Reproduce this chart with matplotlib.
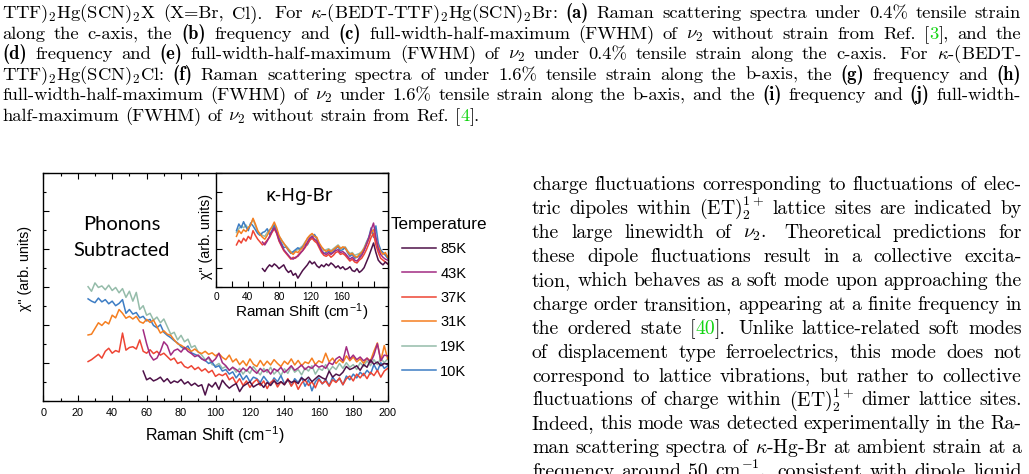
import re
import numpy as np
import matplotlib
matplotlib.use("Agg")
import matplotlib.pyplot as plt

plt.rcParams['mathtext.fontset'] = 'cm'
plt.rcParams['font.family'] = ['Liberation Sans', 'DejaVu Sans']

W, H = 1029, 474

# ---------------- data: main panel (phonons subtracted) ----------------
shift_main = list(range(26, 201, 2))
shift_main_hot = list(range(58, 201, 2))

chi_19K = [3.00, 2.88, 3.10, 2.98, 3.02, 2.92, 3.04, 2.90, 2.98, 2.84,
           2.95, 2.72, 2.88, 2.62, 2.85, 2.40, 2.50, 2.25, 2.30, 2.12,
           2.20, 2.05, 2.15, 1.95, 1.75, 1.80, 1.60, 1.72, 1.55, 1.62,
           1.40, 1.45, 1.28, 1.20, 1.08, 1.12, 0.95, 0.92, 0.98, 0.85,
           0.90, 0.80, 0.88, 0.75, 0.85, 0.70, 0.82, 0.72, 0.90, 0.78,
           0.68, 0.85, 0.74, 0.88, 0.70, 0.80, 0.66, 0.84, 0.72, 0.90,
           0.75, 0.82, 0.68, 0.86, 0.78, 0.92, 0.70, 0.85, 0.80, 0.95,
           0.78, 0.90, 0.82, 0.98, 0.85, 1.00, 0.88, 0.95, 0.82, 1.00,
           0.90, 1.05, 0.92, 1.08, 0.95, 1.12, 1.00, 1.10]
chi_10K = [2.68, 2.62, 2.58, 2.70, 2.60, 2.66, 2.55, 2.62, 2.50, 2.56,
           2.66, 2.30, 2.40, 2.28, 2.32, 2.18, 2.22, 2.10, 2.14, 1.98,
           1.92, 2.00, 1.80, 1.72, 1.66, 1.58, 1.52, 1.42, 1.36, 1.44,
           1.26, 1.22, 1.18, 1.10, 1.06, 0.98, 1.02, 0.88, 0.92, 0.78,
           0.82, 0.70, 0.76, 0.60, 0.72, 0.55, 0.66, 0.50, 0.62, 0.58,
           0.48, 0.64, 0.52, 0.42, 0.60, 0.50, 0.66, 0.45, 0.55, 0.40,
           0.58, 0.48, 0.62, 0.38, 0.55, 0.26, 0.50, 0.60, 0.44, 0.56,
           0.40, 0.62, 0.50, 0.58, 0.42, 0.65, 0.55, 0.70, 0.60, 0.75,
           0.66, 0.80, 0.70, 0.95, 0.78, 1.00, 0.85, 0.92]
chi_31K = [1.73, 1.75, 1.90, 2.05, 1.98, 2.08, 2.02, 2.25, 2.18, 2.40,
           2.30, 2.17, 2.22, 2.15, 2.22, 2.08, 2.04, 2.14, 2.06, 2.12,
           1.95, 1.78, 1.84, 1.75, 1.72, 1.60, 1.50, 1.46, 1.40, 1.36,
           1.30, 1.36, 1.28, 1.24, 1.30, 1.22, 1.26, 1.18, 1.24, 1.14,
           1.08, 1.20, 1.02, 1.10, 0.95, 1.05, 0.92, 1.10, 0.96, 0.90,
           1.06, 0.92, 1.04, 0.94, 1.08, 0.98, 0.90, 1.04, 0.96, 1.10,
           0.94, 1.06, 0.92, 1.02, 0.98, 1.12, 0.95, 1.05, 1.00, 1.25,
           1.02, 1.12, 0.98, 1.08, 1.00, 1.18, 1.05, 1.15, 1.02, 1.10,
           0.98, 1.12, 1.05, 1.30, 1.52, 1.05, 1.45, 1.10]
chi_37K = [1.03, 1.08, 1.15, 1.22, 1.12, 1.30, 1.38, 1.25, 1.32, 1.28,
           1.78, 1.33, 1.40, 1.42, 1.36, 1.60, 1.30, 1.25, 1.34, 1.24,
           1.30, 1.20, 1.25, 1.16, 1.07, 1.12, 0.98, 1.02, 0.90, 0.86,
           0.92, 0.82, 0.88, 0.78, 0.84, 0.74, 0.80, 0.64, 0.70, 0.66,
           0.72, 0.55, 0.62, 0.45, 0.58, 0.40, 0.52, 0.35, 0.48, 0.56,
           0.40, 0.52, 0.32, 0.48, 0.55, 0.36, 0.50, 0.42, 0.58, 0.38,
           0.52, 0.30, 0.46, 0.55, 0.40, 0.50, 0.34, 0.56, 0.45, 0.52,
           0.38, 0.55, 0.48, 0.60, 0.42, 0.58, 0.65, 0.52, 0.70, 0.60,
           0.72, 0.58, 0.75, 0.66, 0.80, 0.62, 0.78, 0.85]
chi_43K = [1.86, 1.50, 1.20, 1.07, 1.12, 1.30, 1.55, 1.45, 1.20, 1.32,
           1.36, 1.28, 1.40, 1.30, 1.24, 1.16, 1.20, 1.10, 1.05, 1.15,
           1.02, 1.10, 1.25, 1.00, 0.92, 0.80, 0.88, 0.82, 0.75, 0.86,
           0.78, 0.90, 0.80, 0.72, 0.85, 0.76, 0.82, 0.70, 0.84, 0.78,
           0.88, 0.74, 0.82, 0.92, 0.80, 0.86, 0.94, 0.82, 0.90, 0.85,
           0.95, 0.88, 0.92, 0.85, 1.00, 0.95, 1.10, 1.16, 1.05, 1.42,
           1.10, 1.20, 1.08, 1.15, 1.05, 1.12, 1.00, 1.20, 1.50, 1.05,
           1.20, 1.18]
chi_85K = [0.78, 0.55, 0.60, 0.52, 0.56, 0.62, 0.50, 0.58, 0.46, 0.52,
           0.48, 0.56, 0.44, 0.50, 0.40, 0.46, 0.38, 0.42, 0.15, 0.44,
           0.36, 0.48, 0.30, 0.54, 0.42, 0.33, 0.40, 0.45, 0.24, 0.38,
           0.44, 0.50, 0.36, 0.42, 0.46, 0.35, 0.48, 0.40, 0.52, 0.44,
           0.50, 0.42, 0.55, 0.48, 0.52, 0.45, 0.60, 0.54, 0.62, 0.50,
           0.58, 0.66, 0.60, 0.56, 0.78, 0.62, 0.70, 0.66, 0.75, 0.90,
           0.82, 0.86, 0.92, 0.80, 0.95, 0.88, 1.07, 0.96, 1.02, 0.92,
           0.98, 0.95]

# ---------------- data: inset (raw spectra) ----------------
shift_ins = list(range(26, 219, 3))
shift_ins_hot = list(range(59, 219, 3))

ins_10K = [2.95, 3.30, 3.10, 3.42, 3.15, 2.95, 3.35, 3.20, 3.00, 2.80,
           2.70, 2.85, 2.90, 3.05, 2.75, 2.95, 3.25, 2.90, 2.55, 2.30,
           2.05, 2.10, 1.90, 1.75, 1.85, 1.95, 2.05, 1.95, 2.10, 2.25,
           2.20, 2.45, 2.60, 2.75, 2.55, 2.15, 1.90, 1.75, 1.80, 1.90,
           1.75, 1.85, 2.00, 2.10, 1.90, 1.95, 2.05, 1.80, 1.60, 1.70,
           1.50, 1.55, 1.60, 1.75, 1.95, 2.30, 2.60, 3.10, 2.60, 3.20,
           2.30, 1.95, 1.80, 1.65, 1.50]
ins_31K = [2.65, 2.95, 2.80, 3.00, 2.90, 3.10, 3.25, 3.60, 3.30, 2.95,
           2.75, 2.60, 2.50, 2.70, 2.95, 3.15, 3.40, 3.10, 2.70, 2.45,
           2.30, 2.10, 1.95, 1.80, 1.70, 1.85, 1.80, 1.95, 2.05, 2.30,
           2.55, 2.70, 2.80, 2.65, 2.60, 2.30, 2.10, 1.95, 1.85, 1.95,
           1.85, 1.95, 2.05, 2.15, 2.00, 2.10, 2.05, 1.85, 1.70, 1.75,
           1.60, 1.55, 1.70, 1.80, 2.00, 2.25, 2.50, 2.85, 3.00, 2.50,
           2.10, 1.85, 1.70, 1.80, 1.55]
ins_19K = [2.85, 3.05, 3.20, 3.10, 3.25, 3.05, 3.30, 3.55, 3.20, 2.90,
           2.80, 2.70, 2.65, 2.85, 3.00, 3.10, 3.25, 3.00, 2.65, 2.50,
           2.25, 2.15, 2.00, 1.85, 1.80, 1.90, 1.95, 2.05, 2.15, 2.35,
           2.50, 2.65, 2.75, 2.70, 2.50, 2.25, 2.05, 1.90, 1.95, 2.00,
           1.90, 2.00, 2.10, 2.20, 2.05, 2.00, 2.10, 1.90, 1.75, 1.80,
           1.65, 1.70, 1.75, 1.85, 2.05, 2.35, 2.60, 2.90, 2.70, 2.40,
           2.05, 1.90, 1.75, 1.70, 1.60]
ins_37K = [2.20, 2.45, 2.30, 2.55, 2.40, 2.65, 2.50, 2.95, 2.70, 2.50,
           2.35, 2.20, 2.30, 2.45, 2.60, 2.85, 3.05, 2.80, 2.40, 2.15,
           1.90, 1.75, 1.60, 1.45, 1.55, 1.50, 1.65, 1.80, 1.90, 2.05,
           2.25, 2.45, 2.55, 2.40, 2.30, 2.05, 1.80, 1.65, 1.60, 1.70,
           1.55, 1.65, 1.80, 1.85, 1.70, 1.75, 1.65, 1.50, 1.35, 1.45,
           1.30, 1.25, 1.40, 1.50, 1.70, 1.95, 2.25, 2.60, 2.80, 2.20,
           1.80, 1.50, 1.40, 1.30, 1.20]
ins_43K = [2.35, 2.20, 2.40, 2.65, 2.90, 3.10, 2.85, 2.45, 2.20, 1.95,
           1.80, 1.65, 1.50, 1.45, 1.55, 1.60, 1.75, 1.90, 2.10, 2.35,
           2.55, 2.65, 2.50, 2.40, 2.15, 1.90, 1.75, 1.70, 1.80, 1.70,
           1.80, 1.90, 1.95, 1.80, 1.85, 1.75, 1.60, 1.45, 1.55, 1.40,
           1.35, 1.50, 1.65, 1.90, 2.20, 2.55, 3.00, 3.35, 2.60, 2.00,
           1.70, 1.55, 1.45, 1.40]
ins_85K = [0.95, 0.80, 1.00, 1.15, 1.05, 1.20, 1.10, 0.95, 1.05, 1.15,
           0.90, 0.75, 0.85, 0.60, 0.70, 0.45, 0.65, 0.85, 1.00, 1.15,
           1.35, 1.20, 1.30, 1.10, 1.00, 1.15, 1.05, 1.20, 1.10, 1.25,
           1.15, 1.00, 1.10, 0.95, 1.05, 0.90, 0.95, 1.05, 0.85, 0.80,
           0.95, 0.75, 0.85, 1.00, 1.30, 1.60, 1.95, 2.30, 1.80, 1.40,
           1.25, 1.15, 1.30, 1.20]

temps = ['85K', '43K', '37K', '31K', '19K', '10K']
colors = {'85K': '#4e1249', '43K': '#a22b82', '37K': '#ee4534',
          '31K': '#f57e20', '19K': '#95bcaa', '10K': '#3d7dc4'}

main_series = {'19K': (shift_main, chi_19K), '10K': (shift_main, chi_10K),
               '31K': (shift_main, chi_31K), '37K': (shift_main, chi_37K),
               '43K': (shift_main_hot, chi_43K), '85K': (shift_main_hot, chi_85K)}
inset_series = {'19K': (shift_ins, ins_19K), '10K': (shift_ins, ins_10K),
                '31K': (shift_ins, ins_31K), '37K': (shift_ins, ins_37K),
                '43K': (shift_ins_hot, ins_43K), '85K': (shift_ins_hot, ins_85K)}
draw_order = ['19K', '10K', '31K', '37K', '43K', '85K']

# ---------------- surrounding paper text ----------------
caption_lines = [
    r"TTF)$_\mathrm{2}$Hg(SCN)$_\mathrm{2}$X (X=Br, Cl).  For $\kappa$-(BEDT-TTF)$_\mathrm{2}$Hg(SCN)$_\mathrm{2}$Br: <b>(a)</b> Raman scattering spectra under 0.4% tensile strain",
    r"along the c-axis, the <b>(b)</b> frequency and <b>(c)</b> full-width-half-maximum (FWHM) of $\nu_\mathrm{2}$ without strain from Ref. [<g>3</g>], and the",
    r"<b>(d)</b> frequency and <b>(e)</b> full-width-half-maximum (FWHM) of $\nu_\mathrm{2}$ under 0.4% tensile strain along the c-axis.  For $\kappa$-(BEDT-",
    r"TTF)$_\mathrm{2}$Hg(SCN)$_\mathrm{2}$Cl: <b>(f)</b> Raman scattering spectra of under 1.6% tensile strain along the b-axis, the <b>(g)</b> frequency and <b>(h)</b>",
    r"full-width-half-maximum (FWHM) of $\nu_\mathrm{2}$ under 1.6% tensile strain along the b-axis, and the <b>(i)</b> frequency and <b>(j)</b> full-width-",
    r"half-maximum (FWHM) of $\nu_\mathrm{2}$ without strain from Ref. [<g>4</g>].",
]
body_lines = [
    r"charge fluctuations corresponding to fluctuations of elec-",
    r"tric dipoles within $(\mathrm{ET})_\mathrm{2}^\mathrm{1+}$ lattice sites are indicated by",
    r"the large linewidth of $\nu_\mathrm{2}$.  Theoretical predictions for",
    r"these dipole fluctuations result in a collective excita-",
    r"tion, which behaves as a soft mode upon approaching the",
    r"charge order transition, appearing at a finite frequency in",
    r"the ordered state [<g>40</g>].  Unlike lattice-related soft modes",
    r"of displacement type ferroelectrics, this mode does not",
    r"correspond to lattice vibrations, but rather to collective",
    r"fluctuations of charge within $(\mathrm{ET})_\mathrm{2}^\mathrm{1+}$ dimer lattice sites.",
    r"Indeed, this mode was detected experimentally in the Ra-",
    r"man scattering spectra of $\kappa$-Hg-Br at ambient strain at a",
    r"frequency around 50 cm$^{-\mathrm{1}}$,  consistent with dipole liquid",
]

GREEN = '#11d411'

fig = plt.figure(figsize=(W / 100, H / 100), dpi=100)
fig.patch.set_facecolor('white')

tax = fig.add_axes([0, 0, 1, 1], zorder=-1)
tax.set_xlim(0, W)
tax.set_ylim(H, 0)
tax.axis('off')
renderer = fig.canvas.get_renderer()

TAG = re.compile(r'(<b>.*?</b>|<g>.*?</g>)')


def segments(word):
    out = []
    for part in TAG.split(word):
        if not part:
            continue
        if part.startswith('<b>'):
            out.append((part[3:-4], 'cmb10', 'black'))
        elif part.startswith('<g>'):
            out.append((part[3:-4], 'cmr10', GREEN))
        else:
            out.append((part, 'cmr10', 'black'))
    return out


def draw_line(line, x0, x1, y, size, justify=True):
    parts = re.split(r'( +)', line)
    words, weights = [], []
    for p in parts:
        if p.strip() == '' and p:
            weights.append(1.0 if len(p) == 1 else 1.5)
        elif p:
            words.append(p)
    word_items = []
    total = 0.0
    for w in words:
        items = []
        for txt, fam, col in segments(w):
            t = tax.text(0, y, txt, fontsize=size, family=fam, color=col,
                         ha='left', va='baseline')
            wd = t.get_window_extent(renderer).width
            items.append((t, wd))
            total += wd
        word_items.append(items)
    natural = size * 0.333 * 100 / 72
    if justify and weights:
        unit = (x1 - x0 - total) / sum(weights)
    else:
        unit = natural
    x = x0
    for i, items in enumerate(word_items):
        for t, wd in items:
            t.set_x(x)
            x += wd
        if i < len(weights):
            x += unit * weights[i]


cap_base = [18.3, 38.8, 59.3, 79.8, 100.3, 120.8]
for i, ln in enumerate(caption_lines):
    draw_line(ln, 2, 1021, cap_base[i], 13.35, justify=(i < len(caption_lines) - 1))

for i, ln in enumerate(body_lines):
    draw_line(ln, 532, 1021.5, 190 + 23.94 * i, 14.2, justify=True)


# ---------------- chart ----------------
def px_rect(l, t, r, b):
    return [l / W, 1 - b / H, (r - l) / W, (b - t) / H]


def ftext(x, y, s, **kw):
    return fig.text(x / W, 1 - y / H, s, **kw)


main = fig.add_axes(px_rect(43.3, 172.7, 387.7, 400.7))
handles = {}
for k in draw_order:
    xs, ys = main_series[k]
    handles[k], = main.plot(xs, ys, color=colors[k], lw=1.1)
main.set_xlim(0, 200)
main.set_ylim(0, 6)
main.set_xticks(range(0, 201, 20))
main.set_xticks(range(0, 201, 10), minor=True)
main.set_yticks(range(0, 7))
main.set_yticks(np.arange(0, 6.01, 0.5), minor=True)
main.tick_params(which='both', direction='in', top=True, right=True,
                 width=0.8, labelsize=7.8, pad=5.3, labelleft=False)
main.tick_params(which='major', length=4.5)
main.tick_params(which='minor', length=2.5)
for s in main.spines.values():
    s.set_linewidth(1.0)
main.set_xlabel(r'Raman Shift (cm$^{\mathregular{-1}}$)', fontsize=11.5)
main.xaxis.set_label_coords(0.5, -0.150)
main.xaxis.label.set_va('center')
main.set_ylabel('\u03c7" (arb. units)', fontsize=10.3)
main.yaxis.set_label_coords(-0.054, 0.582)
main.yaxis.label.set_va('center')

ins = fig.add_axes(px_rect(216, 172.7, 387.7, 286.7))
for k in draw_order:
    xs, ys = inset_series[k]
    ins.plot(xs, ys, color=colors[k], lw=1.1)
ins.set_xlim(0, 218)
ins.set_ylim(0, 6)
ins.set_xticks(range(0, 201, 20),
               labels=[str(v) if (v % 40 == 0 and v < 200) else '' for v in range(0, 201, 20)])
ins.set_yticks(range(0, 7))
ins.tick_params(which='both', direction='in', right=True, top=False,
                width=0.8, length=4, labelsize=7.3, pad=4.0, labelleft=False)
for s in ins.spines.values():
    s.set_linewidth(1.0)
ins.set_xlabel(r'Raman Shift (cm$^{\mathregular{-1}}$)', fontsize=11)
ins.xaxis.set_label_coords(0.50, -0.222)
ins.xaxis.label.set_va('center')
ins.set_ylabel('\u03c7" (arb. units)', fontsize=10.3)
ins.yaxis.set_label_coords(-0.056, 0.445)
ins.yaxis.label.set_va('center')

ftext(122, 225, 'Phonons', fontsize=14.5, family=['Lato', 'DejaVu Sans'], ha='center', va='center')
ftext(122, 250, 'Subtracted', fontsize=14.5, family=['Lato', 'DejaVu Sans'], ha='center', va='center')
ftext(299, 196, '\u03ba-Hg-Br', fontsize=13.5, family=['Noto Sans', 'DejaVu Sans'], ha='center', va='center')
ftext(391, 225, 'Temperature', fontsize=12.3, ha='left', va='center')

leg = fig.legend([handles[k] for k in temps], temps, loc='upper left',
                 bbox_to_anchor=(402 / W, 1 - 242.0 / H), frameon=False,
                 fontsize=10.5, handlelength=2.35, handletextpad=0.28,
                 labelspacing=0.72, borderpad=0, borderaxespad=0)

fig.savefig('out.png', dpi=100, facecolor='white')
